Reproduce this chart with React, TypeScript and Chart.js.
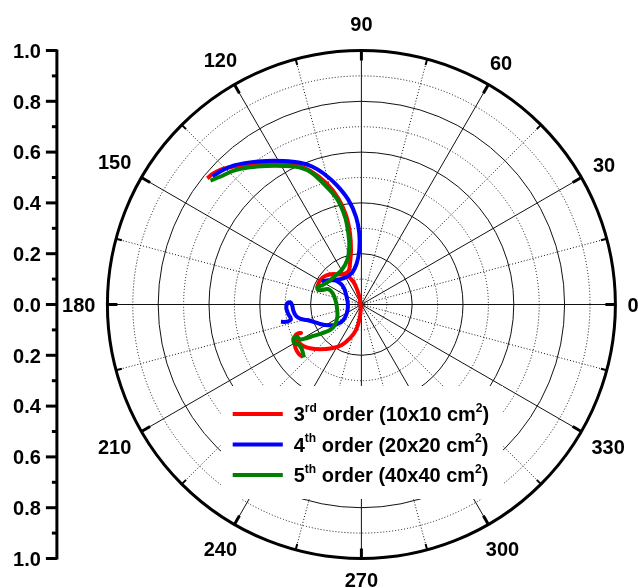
import React, { useEffect, useRef } from 'react';
import { Chart, registerables } from 'chart.js';

Chart.register(...registerables);

// ---------------- data (polar: angle in degrees, radius 0..1) ----------------
const redTheta = [140.7, 138.5, 135.8, 132.9, 128.4, 123.8, 119.4, 115.0, 111.0, 106.0, 102.3, 99.8, 99.1, 100.8, 105.5, 111.1, 122.9, 133.0, 141.9, 149.4, 158.0, 149.4, 141.9, 133.0, 116.8, 109.6, 105.8, 107.3, 262.7, 262.3, 258.0, 251.4, 244.1, 235.9, 227.3, 220.4, 215.5, 210.8, 206.6, 204.6, 205.3, 204.6, 208.6, 213.4, 218.4, 222.0];
const redR = [0.784, 0.779, 0.765, 0.741, 0.706, 0.670, 0.637, 0.604, 0.564, 0.496, 0.428, 0.358, 0.284, 0.218, 0.168, 0.141, 0.141, 0.164, 0.182, 0.189, 0.187, 0.189, 0.182, 0.164, 0.126, 0.095, 0.059, 0.019, 0.022, 0.062, 0.103, 0.140, 0.177, 0.208, 0.240, 0.266, 0.281, 0.288, 0.286, 0.274, 0.263, 0.283, 0.300, 0.311, 0.314, 0.309];

const blueTheta = [139.3, 136.8, 132.7, 128.1, 123.4, 118.6, 113.4, 109.7, 106.2, 101.7, 97.1, 93.5, 91.7, 92.2, 96.5, 107.3, 124.6, 138.9, 148.5, 138.9, 134.9, 137.0, 152.1, 182.1, 210.9, 220.6, 218.7, 212.1, 205.2, 199.7, 195.8, 193.4, 190.0, 185.2, 180.4, 178.2, 179.1, 182.9, 187.6, 191.6, 192.9, 192.7, 192.1];
const blueR = [0.773, 0.764, 0.744, 0.711, 0.677, 0.643, 0.608, 0.577, 0.538, 0.480, 0.415, 0.346, 0.280, 0.215, 0.163, 0.129, 0.125, 0.147, 0.177, 0.147, 0.119, 0.094, 0.066, 0.053, 0.067, 0.094, 0.125, 0.154, 0.180, 0.201, 0.224, 0.246, 0.261, 0.269, 0.273, 0.281, 0.292, 0.296, 0.290, 0.283, 0.295, 0.312, 0.324];

const greenTheta = [140.6, 137.9, 133.8, 129.1, 124.4, 119.4, 114.1, 110.6, 107.5, 103.1, 100.6, 100.4, 101.8, 107.6, 119.7, 132.8, 145.4, 154.4, 158.7, 161.5, 159.8, 155.1, 158.3, 170.1, 185.8, 206.8, 217.8, 219.1, 216.0, 213.2, 211.4, 209.9, 206.3, 206.5, 209.5, 212.4, 215.1, 218.8, 222.7];
const greenR = [0.769, 0.750, 0.729, 0.696, 0.661, 0.626, 0.591, 0.553, 0.500, 0.429, 0.352, 0.285, 0.233, 0.184, 0.156, 0.153, 0.158, 0.173, 0.186, 0.180, 0.165, 0.145, 0.122, 0.104, 0.097, 0.106, 0.132, 0.159, 0.193, 0.226, 0.255, 0.277, 0.284, 0.299, 0.305, 0.294, 0.291, 0.297, 0.308];

const seriesOrderNum = ['3', '4', '5'];
const seriesOrderSup = ['rd', 'th', 'th'];
const seriesSize = ['10x10', '20x20', '40x40'];
const seriesColors = ['#ff0000', '#0000ff', '#008000'];

const angleLabels = [0, 30, 60, 90, 120, 150, 180, 210, 240, 270, 300, 330];
const radialGrid = [0.1, 0.2, 0.3, 0.4, 0.5, 0.6, 0.7, 0.8, 0.9];
const leftAxisValues = [1.0, 0.8, 0.6, 0.4, 0.2, 0.0, -0.2, -0.4, -0.6, -0.8, -1.0];
const leftAxisMinor = [0.9, 0.7, 0.5, 0.3, 0.1, -0.1, -0.3, -0.5, -0.7, -0.9];

const FONT_FAMILY = '"Liberation Sans", Arial, sans-serif';
const FONT = `bold 20px ${FONT_FAMILY}`;
const SUP_FONT = `bold 12px ${FONT_FAMILY}`;

function toXY(th: number[], r: number[]) {
  return th.map((t, i) => ({
    x: r[i] * Math.cos((t * Math.PI) / 180),
    y: r[i] * Math.sin((t * Math.PI) / 180),
  }));
}

export default function App() {
  const ref = useRef<HTMLCanvasElement>(null);

  useEffect(() => {
    document.body.style.margin = '0';
    const canvas = ref.current!;

    const polarPlugin = {
      id: 'polarGrid',
      beforeDatasetsDraw(chart: any) {
        const { ctx, scales } = chart;
        const xs = scales.x;
        const ys = scales.y;
        const cx = xs.getPixelForValue(0);
        const cy = ys.getPixelForValue(0);
        const R = xs.getPixelForValue(1) - cx;
        ctx.save();
        ctx.strokeStyle = '#111';
        radialGrid.forEach((v, i) => {
          ctx.beginPath();
          ctx.lineWidth = 1;
          ctx.setLineDash(i % 2 === 0 ? [1, 2] : []);
          ctx.arc(cx, cy, v * R, 0, Math.PI * 2);
          ctx.stroke();
        });
        for (let a = 0; a < 360; a += 15) {
          const rad = (a * Math.PI) / 180;
          ctx.beginPath();
          ctx.lineWidth = 1;
          ctx.setLineDash(a % 30 === 0 ? [] : [1, 2]);
          ctx.moveTo(cx, cy);
          ctx.lineTo(cx + R * Math.cos(rad), cy - R * Math.sin(rad));
          ctx.stroke();
        }
        ctx.restore();
      },
      afterDatasetsDraw(chart: any) {
        const { ctx, scales } = chart;
        const xs = scales.x;
        const ys = scales.y;
        const cx = xs.getPixelForValue(0);
        const cy = ys.getPixelForValue(0);
        const R = xs.getPixelForValue(1) - cx;
        ctx.save();
        ctx.setLineDash([]);

        // legend box (white, covers grid)
        const lx = cx - 140.4;
        const ly = cy + 81.5;
        ctx.fillStyle = '#fff';
        ctx.fillRect(lx, ly, 282, 113);
        const rowY = [cy + 109.5, cy + 140, cy + 170.5];
        seriesColors.forEach((col, i) => {
          ctx.strokeStyle = col;
          ctx.lineWidth = 4;
          ctx.beginPath();
          ctx.moveTo(cx - 128.7, rowY[i]);
          ctx.lineTo(cx - 78.6, rowY[i]);
          ctx.stroke();
          const parts = [
            { t: seriesOrderNum[i], sup: false },
            { t: seriesOrderSup[i], sup: true },
            { t: ` order (${seriesSize[i]} cm`, sup: false },
            { t: '2', sup: true },
            { t: ')', sup: false },
          ];
          let tx = cx - 67.7;
          const base = rowY[i] + 7.2;
          ctx.fillStyle = '#000';
          ctx.textAlign = 'left';
          ctx.textBaseline = 'alphabetic';
          parts.forEach((p) => {
            ctx.font = p.sup ? SUP_FONT : FONT;
            ctx.fillText(p.t, tx, p.sup ? base - 9.5 : base);
            tx += ctx.measureText(p.t).width;
          });
        });

        // outer circle
        ctx.strokeStyle = '#000';
        ctx.lineWidth = 3;
        ctx.beginPath();
        ctx.arc(cx, cy, R, 0, Math.PI * 2);
        ctx.stroke();

        // inward ticks on the outer circle
        for (let a = 0; a < 360; a += 15) {
          const rad = (a * Math.PI) / 180;
          const major = a % 30 === 0;
          const len = major ? 10 : 6;
          ctx.lineWidth = major ? 3 : 2;
          ctx.beginPath();
          ctx.moveTo(cx + R * Math.cos(rad), cy - R * Math.sin(rad));
          ctx.lineTo(cx + (R - len) * Math.cos(rad), cy - (R - len) * Math.sin(rad));
          ctx.stroke();
        }

        // angle labels
        ctx.font = FONT;
        ctx.fillStyle = '#000';
        ctx.textAlign = 'center';
        ctx.textBaseline = 'alphabetic';
        angleLabels.forEach((a) => {
          const txt = String(a);
          const w = ctx.measureText(txt).width;
          const rad = (a * Math.PI) / 180;
          const c = Math.cos(rad);
          const s = Math.sin(rad);
          let d = R + 12 + (Math.abs(c) * w) / 2 + Math.abs(s) * 9;
          if (a === 90) d += 6;
          const px = cx + d * c;
          const py = cy - d * s;
          ctx.fillText(txt, px, py + 7.2);
        });

        // left radial axis
        const axX = xs.getPixelForValue(-1) - 50.5;
        const top = ys.getPixelForValue(1);
        const bot = ys.getPixelForValue(-1);
        ctx.strokeStyle = '#000';
        ctx.lineWidth = 3;
        ctx.beginPath();
        ctx.moveTo(axX, top - 1);
        ctx.lineTo(axX, bot + 1);
        ctx.stroke();
        ctx.textAlign = 'right';
        leftAxisValues.forEach((v) => {
          const py = ys.getPixelForValue(v);
          ctx.lineWidth = 3;
          ctx.beginPath();
          ctx.moveTo(axX, py);
          ctx.lineTo(axX - 11, py);
          ctx.stroke();
          ctx.fillText(Math.abs(v).toFixed(1), axX - 16, py + 7.2);
        });
        leftAxisMinor.forEach((v) => {
          const py = ys.getPixelForValue(v);
          ctx.lineWidth = 3;
          ctx.beginPath();
          ctx.moveTo(axX, py);
          ctx.lineTo(axX - 5, py);
          ctx.stroke();
        });
        ctx.restore();
      },
    };

    const mk = (i: number, th: number[], r: number[], order: number) => ({
      label: `${seriesOrderNum[i]}${seriesOrderSup[i]} order (${seriesSize[i]} cm2)`,
      data: toXY(th, r),
      showLine: true,
      borderColor: seriesColors[i],
      backgroundColor: seriesColors[i],
      borderWidth: 4,
      pointRadius: 0,
      pointHoverRadius: 0,
      tension: 0.3,
      fill: false,
      order,
      borderJoinStyle: 'round' as const,
    });

    const chart = new Chart(canvas, {
      type: 'scatter',
      data: {
        datasets: [
          mk(0, redTheta, redR, 2),
          mk(1, blueTheta, blueR, 1),
          mk(2, greenTheta, greenR, 0),
        ],
      },
      options: {
        responsive: false,
        animation: false,
        layout: { padding: { left: 107.4, right: 22.6, top: 50.5, bottom: 29.5 } },
        scales: {
          x: { type: 'linear', min: -1, max: 1, display: false },
          y: { type: 'linear', min: -1, max: 1, display: false },
        },
        plugins: {
          legend: { display: false },
          tooltip: { enabled: false },
        },
        events: [],
      },
      plugins: [polarPlugin],
    });
    return () => chart.destroy();
  }, []);

  return (
    <div style={{ position: 'absolute', left: 0, top: 0, width: 638, height: 588, background: '#fff' }}>
      <canvas ref={ref} width={638} height={588} style={{ display: 'block', width: 638, height: 588 }} />
    </div>
  );
}
